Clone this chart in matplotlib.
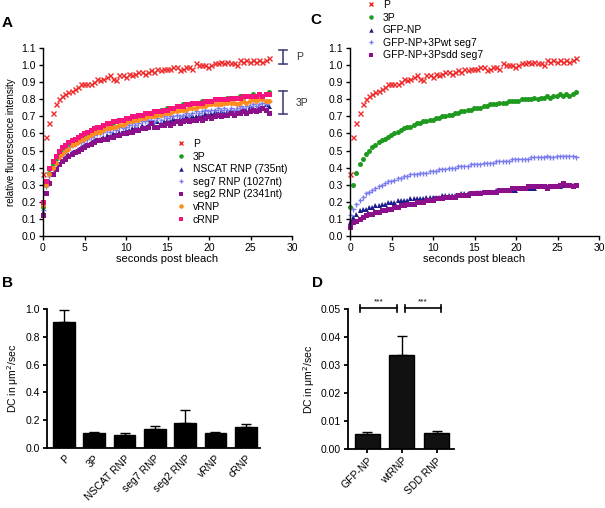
import matplotlib
matplotlib.use("Agg")
import matplotlib.pyplot as plt

plt.rcParams['font.family'] = ['Liberation Sans', 'DejaVu Sans']

# ---------------- data ----------------
time_s = [0.00, 0.38, 0.77, 1.15, 1.53, 1.92, 2.30, 2.68, 3.06, 3.45, 3.83, 4.21,
          4.60, 4.98, 5.36, 5.75, 6.13, 6.51, 6.89, 7.28, 7.66, 8.04, 8.43, 8.81,
          9.19, 9.58, 9.96, 10.34, 10.72, 11.11, 11.49, 11.87, 12.26, 12.64, 13.02, 13.41,
          13.79, 14.17, 14.55, 14.94, 15.32, 15.70, 16.09, 16.47, 16.85, 17.24, 17.62, 18.00,
          18.38, 18.77, 19.15, 19.53, 19.92, 20.30, 20.68, 21.06, 21.45, 21.83, 22.21, 22.60,
          22.98, 23.36, 23.75, 24.13, 24.51, 24.89, 25.28, 25.66, 26.04, 26.43, 26.81, 27.19]

P_curve = [0.36, 0.58, 0.66, 0.72, 0.77, 0.80, 0.82, 0.83, 0.84, 0.85, 0.86, 0.87,
           0.89, 0.89, 0.89, 0.89, 0.90, 0.92, 0.91, 0.92, 0.93, 0.94, 0.92, 0.91,
           0.94, 0.94, 0.93, 0.95, 0.94, 0.95, 0.96, 0.96, 0.95, 0.96, 0.97, 0.96,
           0.98, 0.97, 0.98, 0.98, 0.98, 0.99, 0.99, 0.97, 0.98, 0.99, 0.99, 0.98,
           1.01, 1.00, 1.00, 1.00, 0.99, 1.00, 1.01, 1.01, 1.02, 1.01, 1.02, 1.01,
           1.01, 1.00, 1.03, 1.02, 1.03, 1.02, 1.03, 1.02, 1.03, 1.02, 1.03, 1.04]

P3_curve = [0.17, 0.30, 0.37, 0.42, 0.45, 0.48, 0.50, 0.52, 0.53, 0.55, 0.56, 0.57,
            0.58, 0.59, 0.60, 0.61, 0.62, 0.63, 0.64, 0.64, 0.65, 0.66, 0.66, 0.67,
            0.67, 0.68, 0.68, 0.69, 0.69, 0.70, 0.70, 0.71, 0.71, 0.72, 0.72, 0.73,
            0.73, 0.74, 0.74, 0.75, 0.75, 0.75, 0.76, 0.76, 0.77, 0.77, 0.77, 0.78,
            0.78, 0.78, 0.79, 0.79, 0.79, 0.79, 0.80, 0.80, 0.80, 0.80, 0.81, 0.80,
            0.81, 0.81, 0.82, 0.81, 0.82, 0.82, 0.83, 0.82, 0.83, 0.82, 0.83, 0.84]

nscat_curve = [0.14, 0.25, 0.32, 0.36, 0.39, 0.42, 0.44, 0.46, 0.48, 0.49, 0.50, 0.51,
               0.52, 0.53, 0.54, 0.55, 0.56, 0.57, 0.57, 0.58, 0.59, 0.58, 0.60, 0.59,
               0.61, 0.60, 0.62, 0.62, 0.63, 0.64, 0.63, 0.65, 0.64, 0.65, 0.66, 0.65,
               0.67, 0.66, 0.67, 0.68, 0.67, 0.69, 0.68, 0.69, 0.69, 0.70, 0.69, 0.71,
               0.70, 0.71, 0.70, 0.72, 0.71, 0.72, 0.73, 0.72, 0.73, 0.72, 0.73, 0.74,
               0.73, 0.74, 0.73, 0.75, 0.74, 0.76, 0.75, 0.74, 0.76, 0.75, 0.77, 0.76]

seg7_curve = [0.15, 0.29, 0.35, 0.40, 0.43, 0.46, 0.48, 0.50, 0.52, 0.53, 0.54, 0.55,
              0.55, 0.56, 0.57, 0.58, 0.59, 0.60, 0.60, 0.61, 0.62, 0.61, 0.63, 0.62,
              0.64, 0.63, 0.64, 0.65, 0.66, 0.65, 0.66, 0.67, 0.67, 0.68, 0.68, 0.67,
              0.69, 0.68, 0.70, 0.69, 0.70, 0.70, 0.71, 0.70, 0.71, 0.72, 0.71, 0.72,
              0.73, 0.72, 0.73, 0.74, 0.73, 0.74, 0.74, 0.75, 0.74, 0.75, 0.74, 0.75,
              0.74, 0.75, 0.76, 0.75, 0.76, 0.76, 0.77, 0.76, 0.77, 0.78, 0.77, 0.79]

seg2_curve = [0.12, 0.25, 0.31, 0.36, 0.39, 0.42, 0.44, 0.45, 0.47, 0.48, 0.49, 0.50,
              0.51, 0.52, 0.53, 0.54, 0.55, 0.56, 0.56, 0.57, 0.57, 0.58, 0.58, 0.59,
              0.59, 0.60, 0.60, 0.61, 0.61, 0.62, 0.62, 0.63, 0.63, 0.64, 0.66, 0.64,
              0.64, 0.65, 0.65, 0.66, 0.65, 0.66, 0.67, 0.66, 0.67, 0.68, 0.67, 0.68,
              0.68, 0.69, 0.68, 0.69, 0.70, 0.69, 0.70, 0.71, 0.70, 0.71, 0.71, 0.72,
              0.71, 0.72, 0.72, 0.73, 0.72, 0.73, 0.74, 0.73, 0.74, 0.75, 0.74, 0.72]

vrnp_curve = [0.18, 0.30, 0.36, 0.40, 0.43, 0.46, 0.48, 0.50, 0.51, 0.53, 0.54, 0.55,
              0.56, 0.57, 0.58, 0.59, 0.60, 0.61, 0.61, 0.62, 0.63, 0.63, 0.64, 0.64,
              0.65, 0.65, 0.66, 0.67, 0.67, 0.68, 0.68, 0.69, 0.69, 0.70, 0.70, 0.70,
              0.71, 0.71, 0.72, 0.72, 0.72, 0.73, 0.73, 0.74, 0.74, 0.74, 0.75, 0.75,
              0.75, 0.76, 0.76, 0.76, 0.77, 0.77, 0.77, 0.77, 0.77, 0.78, 0.78, 0.78,
              0.78, 0.77, 0.78, 0.79, 0.78, 0.79, 0.80, 0.79, 0.80, 0.80, 0.79, 0.79]

crnp_curve = [0.20, 0.32, 0.40, 0.44, 0.47, 0.50, 0.52, 0.53, 0.55, 0.56, 0.57, 0.58,
              0.59, 0.60, 0.61, 0.62, 0.63, 0.64, 0.64, 0.65, 0.66, 0.66, 0.67, 0.67,
              0.68, 0.68, 0.69, 0.69, 0.70, 0.70, 0.71, 0.71, 0.72, 0.72, 0.72, 0.73,
              0.73, 0.73, 0.74, 0.74, 0.75, 0.75, 0.76, 0.76, 0.76, 0.77, 0.77, 0.78,
              0.78, 0.78, 0.78, 0.79, 0.79, 0.79, 0.80, 0.80, 0.80, 0.80, 0.80, 0.81,
              0.81, 0.81, 0.81, 0.82, 0.82, 0.82, 0.82, 0.82, 0.83, 0.82, 0.83, 0.83]

gfpnp_curve = [0.08, 0.11, 0.13, 0.15, 0.16, 0.16, 0.17, 0.17, 0.18, 0.18, 0.19, 0.19,
               0.20, 0.20, 0.20, 0.21, 0.21, 0.21, 0.21, 0.22, 0.22, 0.22, 0.22, 0.22,
               0.23, 0.23, 0.23, 0.23, 0.23, 0.24, 0.24, 0.24, 0.24, 0.24, 0.24, 0.25,
               0.25, 0.25, 0.25, 0.25, 0.26, 0.26, 0.26, 0.26, 0.26, 0.26, 0.27, 0.27,
               0.27, 0.27, 0.27, 0.27, 0.27, 0.28, 0.28, 0.28, 0.28, 0.28, 0.28, 0.29,
               0.29, 0.29, 0.29, 0.29, 0.29, 0.29, 0.29, 0.30, 0.30, 0.30, 0.30, 0.30]

wt_seg7_curve = [0.12, 0.16, 0.19, 0.21, 0.23, 0.25, 0.26, 0.27, 0.28, 0.29, 0.30, 0.31,
                 0.32, 0.32, 0.33, 0.34, 0.34, 0.35, 0.35, 0.36, 0.36, 0.36, 0.37, 0.37,
                 0.37, 0.38, 0.38, 0.38, 0.39, 0.39, 0.39, 0.40, 0.40, 0.40, 0.41, 0.41,
                 0.41, 0.41, 0.42, 0.42, 0.42, 0.42, 0.43, 0.43, 0.43, 0.43, 0.44, 0.44,
                 0.44, 0.44, 0.44, 0.45, 0.45, 0.45, 0.45, 0.45, 0.45, 0.46, 0.46, 0.46,
                 0.46, 0.46, 0.47, 0.46, 0.46, 0.47, 0.47, 0.47, 0.47, 0.47, 0.47, 0.465]

sdd_seg7_curve = [0.05, 0.08, 0.09, 0.10, 0.11, 0.12, 0.13, 0.13, 0.14, 0.14, 0.15, 0.15,
                  0.16, 0.16, 0.17, 0.17, 0.18, 0.18, 0.19, 0.19, 0.19, 0.20, 0.20, 0.20,
                  0.21, 0.21, 0.21, 0.22, 0.22, 0.22, 0.23, 0.23, 0.23, 0.23, 0.24, 0.24,
                  0.24, 0.24, 0.25, 0.25, 0.25, 0.25, 0.26, 0.26, 0.26, 0.26, 0.26, 0.27,
                  0.27, 0.27, 0.27, 0.28, 0.28, 0.28, 0.28, 0.28, 0.29, 0.29, 0.29, 0.29,
                  0.29, 0.29, 0.28, 0.29, 0.29, 0.29, 0.30, 0.31, 0.30, 0.30, 0.29, 0.30]

b_categories = ["P", "3P", "NSCAT RNP", "seg7 RNP", "seg2 RNP", "vRNP", "cRNP"]
b_values = [0.91, 0.11, 0.095, 0.135, 0.18, 0.105, 0.15]
b_errors = [0.08, 0.005, 0.012, 0.025, 0.095, 0.008, 0.022]

d_categories = ["GFP-NP", "wtRNP", "SDD RNP"]
d_values = [0.0055, 0.0335, 0.0058]
d_errors = [0.0005, 0.0068, 0.0005]

# ---------------- styles ----------------
C_P = '#ee2a2a'
C_3P = '#1f9a1f'
C_NS = '#1c1c8c'
C_S7 = '#7b7bf0'
C_S2 = '#8c0f8c'
C_V = '#ff8c1e'
C_C = '#f5147e'
BR = '#45457a'

fig = plt.figure(figsize=(6.05, 5.08), dpi=100)

def style_ax(ax, lw=1.0):
    for s in ['top', 'right']:
        ax.spines[s].set_visible(False)
    for s in ['left', 'bottom']:
        ax.spines[s].set_linewidth(lw)
    ax.tick_params(direction='out', length=3, width=lw, labelsize=7.5, pad=2)

ms = 3.6
# ---------------- A ----------------
axA = fig.add_axes([43/605, 1-236/508, 249/605, 188/508])
axA.plot(time_s, P_curve, 'x', color=C_P, ms=ms, mew=1.0, label='P', clip_on=False)
axA.plot(time_s, P3_curve, 'o', color=C_3P, ms=ms, mew=0, label='3P', clip_on=False)
axA.plot(time_s, nscat_curve, '^', color=C_NS, ms=ms, mew=0, label='NSCAT RNP (735nt)', clip_on=False)
axA.plot(time_s, seg7_curve, '+', color=C_S7, ms=ms, mew=1.0, label='seg7 RNP (1027nt)', clip_on=False)
axA.plot(time_s, seg2_curve, 's', color=C_S2, ms=ms, mew=0, label='seg2 RNP (2341nt)', clip_on=False)
axA.plot(time_s, vrnp_curve, 'o', color=C_V, ms=ms, mew=0, label='vRNP', clip_on=False)
axA.plot(time_s, crnp_curve, 's', color=C_C, ms=ms, mew=0, label='cRNP', clip_on=False)
axA.set_xlim(0, 30)
axA.set_ylim(0, 1.1)
axA.set_xticks([0, 5, 10, 15, 20, 25, 30])
axA.set_yticks([i/10 for i in range(12)])
axA.set_yticklabels([f"{i/10:.1f}" for i in range(12)])
axA.set_xlabel('seconds post bleach', fontsize=8, labelpad=1)
axA.set_ylabel('relative fluorescence intensity', fontsize=7, labelpad=4)
style_ax(axA)
axA.legend(loc='upper left', bbox_to_anchor=(176/605, 1-139/508),
           bbox_transform=fig.transFigure, frameon=False, fontsize=7.5,
           handlelength=1.0, handletextpad=0.6, labelspacing=0.25,
           borderpad=0, borderaxespad=0, markerscale=0.9)
# brackets
for (y0, y1, lab) in [(1.006, 1.088, 'P'), (0.714, 0.848, '3P')]:
    axA.plot([28.9, 28.9], [y0, y1], color=BR, lw=1.2, clip_on=False)
    axA.plot([28.4, 29.4], [y0, y0], color=BR, lw=1.2, clip_on=False)
    axA.plot([28.4, 29.4], [y1, y1], color=BR, lw=1.2, clip_on=False)
    axA.text(30.5, (y0+y1)/2, lab, fontsize=7.5, color='#333333', va='center', ha='left', clip_on=False)

# ---------------- C ----------------
axC = fig.add_axes([350/605, 1-236/508, 249/605, 188/508])
axC.plot(time_s, P_curve, 'x', color=C_P, ms=ms, mew=1.0, label='P', clip_on=False)
axC.plot(time_s, P3_curve, 'o', color=C_3P, ms=ms, mew=0, label='3P', clip_on=False)
axC.plot(time_s, gfpnp_curve, '^', color=C_NS, ms=ms, mew=0, label='GFP-NP', clip_on=False)
axC.plot(time_s, wt_seg7_curve, '+', color=C_S7, ms=ms, mew=1.0, label='GFP-NP+3Pwt seg7', clip_on=False)
axC.plot(time_s, sdd_seg7_curve, 's', color=C_S2, ms=ms, mew=0, label='GFP-NP+3Psdd seg7', clip_on=False)
axC.set_xlim(0, 30)
axC.set_ylim(0, 1.1)
axC.set_xticks([0, 5, 10, 15, 20, 25, 30])
axC.set_yticks([i/10 for i in range(12)])
axC.set_yticklabels([f"{i/10:.1f}" for i in range(12)])
axC.set_xlabel('seconds post bleach', fontsize=8, labelpad=1)
style_ax(axC)
axC.legend(loc='upper left', bbox_to_anchor=(366/605, 1.0),
           bbox_transform=fig.transFigure, frameon=False, fontsize=7.5,
           handlelength=1.0, handletextpad=0.6, labelspacing=0.25,
           borderpad=0, borderaxespad=0, markerscale=0.9)

# ---------------- B ----------------
axB = fig.add_axes([47/605, 1-448/508, 213/605, 139/508])
xb = list(range(len(b_categories)))
axB.bar(xb, b_values, width=0.72, color='black', edgecolor='black')
axB.errorbar(xb, b_values, yerr=[[0]*len(b_errors), b_errors], fmt='none',
             ecolor='black', elinewidth=1.0, capsize=3.5, capthick=1.0)
axB.set_xlim(-0.56, 6.47)
axB.set_ylim(0, 1.0)
axB.set_yticks([0, 0.2, 0.4, 0.6, 0.8, 1.0])
axB.set_yticklabels(['0.0', '0.2', '0.4', '0.6', '0.8', '1.0'])
axB.set_xticks(xb)
axB.set_xticklabels(b_categories, rotation=45, ha='right', rotation_mode='anchor')
axB.set_ylabel('DC in μm$^2$/sec', fontsize=7.5, labelpad=3)
style_ax(axB, lw=1.3)
axB.tick_params(axis='x', length=0, pad=4)

# ---------------- D ----------------
axD = fig.add_axes([348/605, 1-449/508, 106/605, 140/508])
xd = list(range(len(d_categories)))
axD.bar(xd, d_values, width=0.72, color='#111111', edgecolor='black')
axD.errorbar(xd, d_values, yerr=[[0]*len(d_errors), d_errors], fmt='none',
             ecolor='black', elinewidth=1.0, capsize=3.5, capthick=1.0)
axD.set_xlim(-0.55, 2.5)
axD.set_ylim(0, 0.05)
axD.set_yticks([0, 0.01, 0.02, 0.03, 0.04, 0.05])
axD.set_yticklabels(['0.00', '0.01', '0.02', '0.03', '0.04', '0.05'])
axD.set_xticks(xd)
axD.set_xticklabels(d_categories, rotation=45, ha='right', rotation_mode='anchor')
axD.set_ylabel('DC in μm$^2$/sec', fontsize=7.5, labelpad=3)
style_ax(axD, lw=1.3)
for (xa, xb2) in [(-0.2, 0.86), (1.09, 2.14)]:
    axD.plot([xa, xb2], [0.0503, 0.0503], color='black', lw=1.2, clip_on=False)
    axD.plot([xa, xa], [0.0491, 0.0516], color='black', lw=1.2, clip_on=False)
    axD.plot([xb2, xb2], [0.0491, 0.0516], color='black', lw=1.2, clip_on=False)
    axD.text((xa+xb2)/2, 0.0513, '***', fontsize=6, ha='center', va='bottom', clip_on=False)

# ---------------- panel letters ----------------
for (x, y, l) in [(2, 23, 'A'), (310, 20, 'C'), (2, 283, 'B'), (312, 283, 'D')]:
    fig.text(x/605, 1-y/508, l, fontsize=11, fontweight='bold', ha='left', va='center')

fig.savefig('out.png', dpi=100)
